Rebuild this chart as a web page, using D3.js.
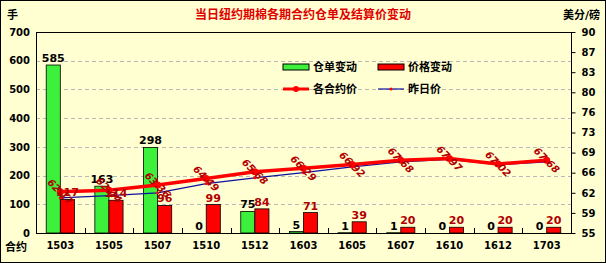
<!DOCTYPE html>
<html>
<head>
<meta charset="utf-8">
<script src="https://cdn.jsdelivr.net/npm/d3@7"></script>
<style>
  body { margin: 0; background: #fff; }
  svg text { font-family: "DejaVu Sans", "Noto Sans CJK SC", sans-serif; }
</style>
</head>
<body>
<div id="chart"></div>
<script>
const categories = ["1503","1505","1507","1510","1512","1603","1605","1607","1610","1612","1703"];
const warrants = [585, 163, 298, 0, 75, 5, 1, 1, 0, 0, 0];       // 仓单变动
const priceChange = [117, 114, 96, 99, 84, 71, 39, 20, 20, 20, 20]; // 价格变动
const settle = [62.17, 62.44, 63.36, 64.49, 65.68, 66.29, 66.92, 67.68, 67.97, 67.02, 67.68]; // 各合约价
const prevSettle = [61.1, 61.5, 62.0, 63.6, 64.6, 65.5, 66.5, 67.4, 67.8, 66.9, 67.4];      // 昨日价
const leftTicks = [0, 100, 200, 300, 400, 500, 600, 700];
const rightTicks = d3.range(0, 11).map(i => 55 + i * 3.5);

const width = 606, height = 263;
const plot = {left: 36, right: 571, top: 32, bottom: 233};
const bg = "#ffffd2";
const darkRed = "#b00000";

const svg = d3.select("#chart").append("svg")
    .attr("width", width)
    .attr("height", height);

svg.append("rect")
    .attr("x", 0.5).attr("y", 0.5)
    .attr("width", width - 1).attr("height", height - 1)
    .style("fill", bg)
    .style("stroke", "#000");

const x = d3.scaleBand().domain(categories).range([plot.left, plot.right]);
const sub = d3.scaleBand().domain(["w", "p"]).range([0, x.bandwidth() * 0.58]);
const off = (x.bandwidth() - sub.range()[1]) / 2;
const yL = d3.scaleLinear().domain([0, 700]).range([plot.bottom, plot.top]);
const yR = d3.scaleLinear().domain([55, 90]).range([plot.bottom, plot.top]);

// gridlines
svg.append("g").selectAll("line")
    .data(leftTicks.slice(1, -1))
    .join("line")
    .attr("x1", plot.left).attr("x2", plot.right)
    .attr("y1", d => Math.round(yL(d)) + 0.5).attr("y2", d => Math.round(yL(d)) + 0.5)
    .style("stroke", "#b8b8b8")
    .style("stroke-dasharray", "4,3");

// plot frame
svg.append("rect")
    .attr("x", plot.left + 0.5).attr("y", plot.top + 0.5)
    .attr("width", plot.right - plot.left).attr("height", plot.bottom - plot.top)
    .style("fill", "none")
    .style("stroke", "#000");

// bars
const bars = svg.append("g");
bars.selectAll("rect.w")
    .data(warrants)
    .join("rect")
    .attr("class", "w")
    .attr("x", (d, i) => x(categories[i]) + off + sub("w"))
    .attr("y", d => yL(d))
    .attr("width", sub.bandwidth())
    .attr("height", d => plot.bottom - yL(d))
    .style("fill", "#3cf03c")
    .style("stroke", "#000")
    .style("stroke-width", 0.8);
bars.selectAll("rect.p")
    .data(priceChange)
    .join("rect")
    .attr("class", "p")
    .attr("x", (d, i) => x(categories[i]) + off + sub("p"))
    .attr("y", d => yL(d))
    .attr("width", sub.bandwidth())
    .attr("height", d => plot.bottom - yL(d))
    .style("fill", "#ff0000")
    .style("stroke", "#000")
    .style("stroke-width", 0.8);

// x ticks between categories (inward)
svg.append("g").selectAll("line")
    .data(categories.slice(1))
    .join("line")
    .attr("x1", d => Math.round(x(d)) + 0.5).attr("x2", d => Math.round(x(d)) + 0.5)
    .attr("y1", plot.bottom - 5).attr("y2", plot.bottom)
    .style("stroke", "#000");

// lines
const lineR = d3.line().x((d, i) => x(categories[i]) + x.bandwidth() / 2).y(d => yR(d));
svg.append("path")
    .datum(prevSettle)
    .attr("d", lineR)
    .style("fill", "none")
    .style("stroke", "#1010a0")
    .style("stroke-width", 1.2);
svg.append("g").selectAll("circle")
    .data(prevSettle)
    .join("circle")
    .attr("cx", (d, i) => x(categories[i]) + x.bandwidth() / 2)
    .attr("cy", d => yR(d))
    .attr("r", 1.5)
    .style("fill", "#ff0000");
svg.append("path")
    .datum(settle)
    .attr("d", lineR)
    .style("fill", "none")
    .style("stroke", "#ff0000")
    .style("stroke-width", 3.5);
svg.append("g").selectAll("circle")
    .data(settle)
    .join("circle")
    .attr("cx", (d, i) => x(categories[i]) + x.bandwidth() / 2)
    .attr("cy", d => yR(d))
    .attr("r", 3.5)
    .style("fill", "#ff0000");

// bar labels
svg.append("g").selectAll("text")
    .data(warrants)
    .join("text")
    .attr("x", (d, i) => x(categories[i]) + off + sub("w") + sub.bandwidth() / 2)
    .attr("y", d => yL(d) - 3)
    .attr("text-anchor", "middle")
    .style("font-size", "11px")
    .style("font-weight", "bold")
    .style("fill", "#000")
    .text(d => d);
svg.append("g").selectAll("text")
    .data(priceChange)
    .join("text")
    .attr("x", (d, i) => x(categories[i]) + off + sub("p") + sub.bandwidth() / 2)
    .attr("y", d => yL(d) - 3)
    .attr("text-anchor", "middle")
    .style("font-size", "11px")
    .style("font-weight", "bold")
    .style("fill", darkRed)
    .text(d => d);

// price labels, rotated on the points
svg.append("g").selectAll("text")
    .data(settle)
    .join("text")
    .attr("transform", (d, i) => `translate(${x(categories[i]) + x.bandwidth() / 2},${yR(d)}) rotate(45)`)
    .attr("text-anchor", "middle")
    .attr("dy", "0.35em")
    .style("font-size", "10px")
    .style("font-style", "italic")
    .style("font-weight", "bold")
    .style("fill", darkRed)
    .text(d => d.toFixed(2));

// axes
const axisFont = g => g.selectAll("text")
    .style("font-size", "10px")
    .style("font-weight", "bold")
    .style("fill", "#000");
svg.append("g")
    .attr("transform", `translate(${plot.left},0)`)
    .call(d3.axisLeft(yL).tickValues(leftTicks).tickSize(0).tickPadding(6))
    .call(g => g.select(".domain").remove())
    .call(axisFont);
svg.append("g")
    .attr("transform", `translate(${plot.right + 0.5},0)`)
    .call(d3.axisRight(yR).tickValues(rightTicks).tickSize(4).tickPadding(6).tickFormat(d3.format(".0f")))
    .call(g => g.select(".domain").remove())
    .call(axisFont);
svg.append("g")
    .attr("transform", `translate(0,${plot.bottom})`)
    .call(d3.axisBottom(x).tickSize(0).tickPadding(9))
    .call(g => g.select(".domain").remove())
    .call(axisFont);

// titles
svg.append("text")
    .attr("x", 303).attr("y", 19)
    .attr("text-anchor", "middle")
    .style("font-size", "12px")
    .style("font-weight", "bold")
    .style("fill", "#e00000")
    .text("当日纽约期棉各期合约仓单及结算价变动");
svg.append("text")
    .attr("x", 7).attr("y", 19)
    .style("font-size", "11px").style("font-weight", "bold")
    .text("手");
svg.append("text")
    .attr("x", 600).attr("y", 19)
    .attr("text-anchor", "end")
    .style("font-size", "11px").style("font-weight", "bold")
    .text("美分/磅");
svg.append("text")
    .attr("x", 5).attr("y", 251)
    .style("font-size", "11px").style("font-weight", "bold")
    .text("合约");

// legend
const legend = svg.append("g").style("font-size", "11px").style("font-weight", "bold");
const legendItems = [
    {label: "仓单变动", kind: "bar", color: "#3cf03c", lx: 283, ly: 67},
    {label: "价格变动", kind: "bar", color: "#ff0000", lx: 378, ly: 67},
    {label: "各合约价", kind: "line", color: "#ff0000", lx: 283, ly: 89},
    {label: "昨日价", kind: "line", color: "#1010a0", lx: 378, ly: 89}
];
legendItems.forEach(d => {
    if (d.kind === "bar") {
        legend.append("rect")
            .attr("x", d.lx).attr("y", d.ly - 3)
            .attr("width", 26).attr("height", 6)
            .style("fill", d.color).style("stroke", "#000");
    } else {
        legend.append("line")
            .attr("x1", d.lx).attr("x2", d.lx + 26)
            .attr("y1", d.ly).attr("y2", d.ly)
            .style("stroke", d.color)
            .style("stroke-width", d.color === "#ff0000" ? 3 : 1.2);
        legend.append("circle")
            .attr("cx", d.lx + 13).attr("cy", d.ly)
            .attr("r", d.color === "#ff0000" ? 3 : 1.5)
            .style("fill", "#ff0000");
    }
    legend.append("text")
        .attr("x", d.lx + 30).attr("y", d.ly)
        .attr("dy", "0.38em")
        .text(d.label);
});
</script>
</body>
</html>
